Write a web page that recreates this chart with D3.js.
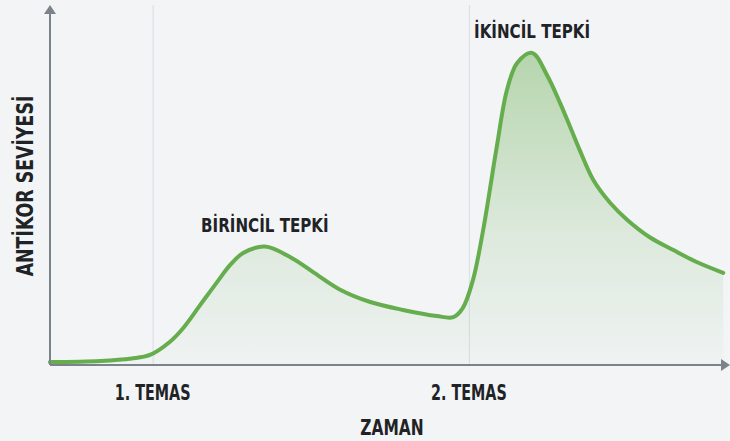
<!DOCTYPE html>
<html>
<head>
<meta charset="utf-8">
<script src="https://cdn.jsdelivr.net/npm/d3@7"></script>
<style>
  html, body { margin: 0; padding: 0; background: #f2f4f6; }
  svg { display: block; }
  .lbl { font-family: "Liberation Sans Narrow", "DejaVu Sans Condensed", sans-serif; font-weight: bold; font-stretch: condensed; fill: #1f2326; }
</style>
</head>
<body>
<svg id="chart" width="730" height="441"></svg>
<script>
// time (0-100) vs antibody level (0-100)
const times  = [0, 7.4, 12, 14.7, 17.6, 19.6, 22.1, 24.6, 26.5, 28.4, 31.6, 35.3, 38.7, 42.6, 47.1, 51.9, 56.9, 59.3, 60.7, 62.2, 63.7, 65.7, 67.2, 68.7, 70.9, 73.1, 75, 76.5, 77.9, 79.9, 82.4, 84.9, 88.2, 91.6, 95.1, 99];
const levels = [0.8, 1.1, 1.8, 2.8, 6.4, 10.3, 16.7, 23.1, 27.8, 31.1, 32.9, 30, 25.8, 21, 17.5, 15.3, 13.6, 13.3, 15.8, 23.6, 37.5, 60.6, 76.4, 83.9, 86.7, 80.5, 72.8, 66.1, 59.7, 51.4, 45, 40.3, 35.5, 32.0, 28.6, 25.6];

const exposureTimes  = [15.1, 61.6];
const exposureLabels = ["1. TEMAS", "2. TEMAS"];

const peakTimes  = [31.6, 70.9];
const peakLevels = [32.9, 86.7];
const peakLabels = ["BİRİNCİL TEPKİ", "İKİNCİL TEPKİ"];

const xTitle = "ZAMAN";
const yTitle = "ANTİKOR SEVİYESİ";

const svg = d3.select("#chart");
const W = 730, H = 441;
const margin = {left: 50, right: 0, top: 5, bottom: 76};

const x = d3.scaleLinear().domain([0, 100]).range([margin.left, W - margin.right]);
const y = d3.scaleLinear().domain([0, 100]).range([H - margin.bottom, margin.top]);

const data = times.map((t, i) => ({t, v: levels[i]}));
const green = "#66ad4d";

// gradient for the area
const defs = svg.append("defs");
const grad = defs.append("linearGradient")
  .attr("id", "fillGrad").attr("gradientUnits", "userSpaceOnUse")
  .attr("x1", 0).attr("x2", 0).attr("y1", y(90)).attr("y2", y(0));
grad.append("stop").attr("offset", 0).attr("stop-color", green).attr("stop-opacity", 0.45);
grad.append("stop").attr("offset", 0.6).attr("stop-color", green).attr("stop-opacity", 0.15);
grad.append("stop").attr("offset", 1).attr("stop-color", green).attr("stop-opacity", 0.02);

// vertical guide lines at exposures
svg.append("g")
  .attr("transform", `translate(0,${y(0)})`)
  .call(d3.axisBottom(x).tickValues(exposureTimes).tickSize(-(y(0) - y(100))).tickFormat(""))
  .call(g => g.select(".domain").remove())
  .call(g => g.selectAll(".tick line").attr("stroke", "#d9dde1").attr("stroke-width", 1));

const curve = d3.curveCatmullRom.alpha(0.5);
const area = d3.area().x(d => x(d.t)).y0(y(0)).y1(d => y(d.v)).curve(curve);
const line = d3.line().x(d => x(d.t)).y(d => y(d.v)).curve(curve);

svg.append("path").datum(data).attr("d", area).attr("fill", "url(#fillGrad)");
svg.append("path").datum(data).attr("d", line)
  .attr("fill", "none").attr("stroke", green).attr("stroke-width", 4)
  .attr("stroke-linecap", "round").attr("stroke-linejoin", "round");

// axes
const axisColor = "#7b828a";
svg.append("line")
  .attr("x1", x(0)).attr("x2", x(100) - 6).attr("y1", y(0)).attr("y2", y(0))
  .attr("stroke", axisColor).attr("stroke-width", 2);
svg.append("line")
  .attr("x1", x(0)).attr("x2", x(0)).attr("y1", y(0)).attr("y2", y(100) + 6)
  .attr("stroke", axisColor).attr("stroke-width", 2);
// arrow heads
svg.append("path")
  .attr("d", `M${x(0) - 6},${y(100) + 9} L${x(0)},${y(100)} L${x(0) + 6},${y(100) + 9} Z`)
  .attr("fill", axisColor);
svg.append("path")
  .attr("d", `M${x(100) - 9},${y(0) - 6} L${x(100)},${y(0)} L${x(100) - 9},${y(0) + 6} Z`)
  .attr("fill", axisColor);

// condensed text: squeeze horizontally to mimic the narrow face
function label(g, tx, ty, str, size, sx, rot) {
  g.append("text").attr("class", "lbl")
    .attr("transform", `translate(${tx},${ty})${rot ? ` rotate(${rot})` : ""} scale(${sx},1)`)
    .attr("text-anchor", "middle")
    .attr("font-size", size)
    .text(str);
}

// exposure labels
const gx = svg.append("g");
exposureTimes.forEach((t, i) => label(gx, x(t), y(0) + 35, exposureLabels[i], 21, 0.76));

// peak labels
const gp = svg.append("g");
peakTimes.forEach((t, i) => label(gp, x(t), y(peakLevels[i]) - 15, peakLabels[i], 20, 0.84));

// axis titles
label(svg, x(50) + 2, H - 6, xTitle, 22, 0.78);
label(svg, 33, (y(0) + y(100)) / 2 + 1, yTitle, 23, 0.84, -90);
</script>
</body>
</html>
